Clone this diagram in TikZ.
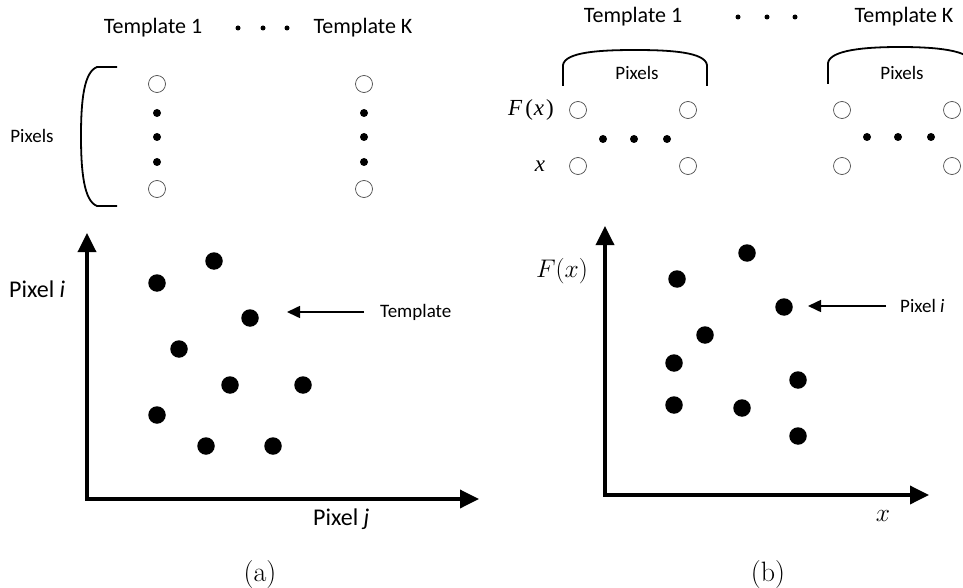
\documentclass[tikz,border=0pt]{standalone}
\usepackage{fix-cm}
\usepackage{fontspec}
\setsansfont{Carlito}
\newfontfamily\tmsfont{Liberation Serif}
\usetikzlibrary{arrows.meta}
\begin{document}
\begin{tikzpicture}[x=1pt,y=-1pt,
  big/.style={font=\sffamily\fontsize{22}{26}\selectfont, inner sep=0pt},
  mid/.style={font=\sffamily\fontsize{19}{22}\selectfont, inner sep=0pt},
  lab/.style={font=\sffamily\fontsize{24}{28}\selectfont, inner sep=0pt},
  hole/.style={circle, draw=black!70, line width=0.7pt, minimum size=17pt, inner sep=0pt},
  sdot/.style={circle, fill=black, minimum size=8pt, inner sep=0pt},
  tdot/.style={circle, fill=black, minimum size=5pt, inner sep=0pt},
  pt/.style={circle, fill=black, minimum size=17.5pt, inner sep=0pt},
  axis/.style={line width=3.5pt, line join=miter, {Triangle[length=19pt,width=18pt]}-{Triangle[length=19pt,width=18pt]}},
  pointer/.style={line width=1.6pt, -{Triangle[length=13pt,width=12pt]}},
  brace/.style={line width=1.8pt},
  mth/.style={font=\fontsize{#1}{#1}\selectfont, inner sep=0pt},
  tms/.style={font=\tmsfont\fontsize{23}{23}\selectfont, inner sep=0pt}]
\useasboundingbox (0,0) rectangle (963,588);
\clip (0,0) rectangle (963,588);
% ---------- panel (a) ----------
\node[big] (aT1) at (153,28) {Template 1};
\node[tdot] (adt1) at (238,28) {};
\node[tdot] (adt2) at (263,28) {};
\node[tdot] (adt3) at (287,28) {};
\node[big] (aTK) at (363,28) {Template K};
\node[mid] (apix) at (32,136) {Pixels};
\draw[brace] (117,67) -- (97,67) .. controls (84,72) and (81,100) .. (81,136)
  .. controls (81,172) and (84,201) .. (97,206) -- (117,206);
\foreach \c/\n in {157/1,364/2}{
  \node[hole] (ah\n a) at (\c,84) {};
  \node[sdot] (as\n a) at (\c,113) {};
  \node[sdot] (as\n b) at (\c,137) {};
  \node[sdot] (as\n c) at (\c,162) {};
  \node[hole] (ah\n b) at (\c,189) {};
}
\coordinate (ao) at (87,499);
\coordinate (ay) at (87,233);
\coordinate (ax) at (479,499);
\draw[axis] (ay) -- (ao) -- (ax);
\node[lab, anchor=west] (api) at (9,289) {Pixel \textit{i}};
\node[lab, anchor=west] (apj) at (313,519) {Pixel \textit{j}};
\node[pt] (ap1) at (157,283) {};
\node[pt] (ap2) at (214,261) {};
\node[pt] (ap3) at (250,318) {};
\node[pt] (ap4) at (179,349) {};
\node[pt] (ap5) at (230,385) {};
\node[pt] (ap6) at (303,385) {};
\node[pt] (ap7) at (157,415) {};
\node[pt] (ap8) at (206,446) {};
\node[pt] (ap9) at (273,446) {};
\node[mid, anchor=west] (atl) at (380,312) {Template};
\coordinate (atip) at (287,312);
\draw[pointer, shorten <=16pt] (atl.west) -- (atip);
\node[mth=28] (acap) at (260,574) {$\mathrm{(a)}$};
% ---------- panel (b) ----------
\node[big] (bT1) at (633,17) {Template 1};
\node[tdot] (bdt1) at (738,17) {};
\node[tdot] (bdt2) at (767,17) {};
\node[tdot] (bdt3) at (795,17) {};
\node[big] (bTK) at (904,17) {Template K};
\draw[brace] (563,86) -- (563,65) .. controls (565,52) and (600,50) .. (635,50)
  .. controls (670,50) and (705,52) .. (707,65) -- (707,86);
\draw[brace] (828,84) -- (828,63) .. controls (830,50) and (865,47) .. (900,47)
  .. controls (935,47) and (970,50) .. (972,63) -- (972,84);
\node[mid] (bpix1) at (637,73) {Pixels};
\node[mid] (bpix2) at (902,73) {Pixels};
\node[tms, anchor=east] (bFx) at (554,110) {\textit{F}\hspace{3pt}(\hspace{1pt}\textit{x}\hspace{2pt})};
\node[tms] (bxx) at (540,166) {\textit{x}};
\foreach \l/\r/\n in {578/688/1,842/952/2}{
  \node[hole] (bh\n a) at (\l,110) {};
  \node[hole] (bh\n b) at (\r,110) {};
  \node[hole] (bh\n c) at (\l,166) {};
  \node[hole] (bh\n d) at (\r,166) {};
}
\node[sdot] (bs1a) at (603,139) {};
\node[sdot] (bs1b) at (634,139) {};
\node[sdot] (bs1c) at (667,139) {};
\node[sdot] (bs2a) at (867,137) {};
\node[sdot] (bs2b) at (898,137) {};
\node[sdot] (bs2c) at (931,137) {};
\coordinate (bo) at (605,495);
\coordinate (by) at (605,226);
\coordinate (bx) at (929,495);
\draw[axis] (by) -- (bo) -- (bx);
\node[mth=25.5] (bFy) at (562,271) {$F(x)$};
\node[mth=25.5] (bxl) at (883,516) {$x$};
\node[pt] (bp1) at (677,279) {};
\node[pt] (bp2) at (747,253) {};
\node[pt] (bp3) at (784,307) {};
\node[pt] (bp4) at (705,335) {};
\node[pt] (bp5) at (674,363) {};
\node[pt] (bp6) at (798,380) {};
\node[pt] (bp7) at (674,405) {};
\node[pt] (bp8) at (742,408) {};
\node[pt] (bp9) at (798,436) {};
\node[mid, anchor=west] (bpl) at (900,306) {Pixel \textit{i}};
\coordinate (btip) at (808,306);
\draw[pointer, shorten <=14pt] (bpl.west) -- (btip);
\node[mth=28] (bcap) at (768,574) {$\mathrm{(b)}$};
\end{tikzpicture}
\end{document}
